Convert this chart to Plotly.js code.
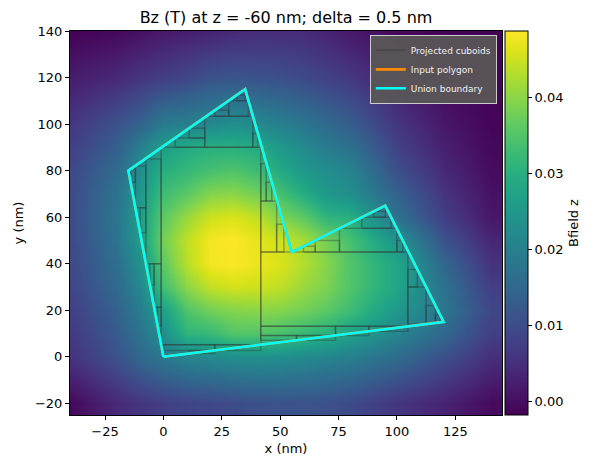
<!DOCTYPE html>
<html><head><meta charset="utf-8">
<script src="https://cdn.plot.ly/plotly-3.0.1.min.js"></script>
<style>html,body{margin:0;padding:0;background:#fff}#chart{width:598px;height:470px}</style>
</head><body><div id="chart"></div>
<script>
// Field grid (nm) and Bz values (T)
const xGrid = [-40, -20, -10, 0, 10, 20, 30, 40, 50, 60, 70, 80, 100, 120, 140];
const yGrid = [-20, 0, 10, 20, 30, 40, 50, 60, 70, 80, 90, 100, 120, 140];
const bz_y_m20 = [-0.0008, 0.0040, 0.0060, 0.0075, 0.0085, 0.0090, 0.0098, 0.0105, 0.0110, 0.0110, 0.0105, 0.0095, 0.0060, 0.0030, -0.0004];
const bz_y_0   = [0.0055, 0.0110, 0.0150, 0.0185, 0.0210, 0.0220, 0.0230, 0.0235, 0.0230, 0.0220, 0.0210, 0.0200, 0.0160, 0.0105, 0.0048];
const bz_y_10  = [0.0065, 0.0125, 0.0175, 0.0230, 0.0310, 0.0320, 0.0350, 0.0350, 0.0340, 0.0320, 0.0300, 0.0270, 0.0210, 0.0150, 0.0075];
const bz_y_20  = [0.0075, 0.0140, 0.0195, 0.0270, 0.0350, 0.0380, 0.0395, 0.0400, 0.0395, 0.0380, 0.0360, 0.0330, 0.0250, 0.0180, 0.0090];
const bz_y_30  = [0.0085, 0.0155, 0.0215, 0.0335, 0.0400, 0.0440, 0.0455, 0.0450, 0.0440, 0.0410, 0.0387, 0.0350, 0.0280, 0.0170, 0.0075];
const bz_y_40  = [0.0090, 0.0165, 0.0240, 0.0360, 0.0435, 0.0480, 0.0485, 0.0475, 0.0460, 0.0430, 0.0395, 0.0350, 0.0280, 0.0150, 0.0055];
const bz_y_50  = [0.0095, 0.0175, 0.0260, 0.0380, 0.0440, 0.0480, 0.0488, 0.0470, 0.0450, 0.0420, 0.0380, 0.0340, 0.0240, 0.0110, 0.0035];
const bz_y_60  = [0.0095, 0.0180, 0.0260, 0.0360, 0.0410, 0.0450, 0.0460, 0.0440, 0.0390, 0.0360, 0.0310, 0.0300, 0.0170, 0.0075, 0.0013];
const bz_y_70  = [0.0095, 0.0175, 0.0250, 0.0330, 0.0360, 0.0395, 0.0400, 0.0380, 0.0340, 0.0295, 0.0250, 0.0230, 0.0140, 0.0058, 0.0005];
const bz_y_80  = [0.0090, 0.0160, 0.0230, 0.0300, 0.0320, 0.0340, 0.0350, 0.0330, 0.0290, 0.0250, 0.0230, 0.0210, 0.0105, 0.0040, -0.0003];
const bz_y_90  = [0.0075, 0.0135, 0.0200, 0.0260, 0.0290, 0.0300, 0.0300, 0.0290, 0.0250, 0.0220, 0.0190, 0.0170, 0.0080, 0.0025, -0.0008];
const bz_y_100 = [0.0060, 0.0110, 0.0140, 0.0190, 0.0200, 0.0215, 0.0230, 0.0220, 0.0200, 0.0180, 0.0155, 0.0130, 0.0060, 0.0013, -0.0012];
const bz_y_120 = [0.0020, 0.0040, 0.0060, 0.0075, 0.0090, 0.0110, 0.0115, 0.0110, 0.0105, 0.0095, 0.0080, 0.0065, 0.0020, -0.0007, -0.0015];
const bz_y_140 = [-0.0017, -0.0008, 0.0003, 0.0015, 0.0023, 0.0030, 0.0040, 0.0045, 0.0045, 0.0042, 0.0030, 0.0015, -0.0008, -0.0016, -0.0017];
const bzMin = -0.0018, bzMax = 0.0488;

// Input polygon vertices (nm)
const polyX = [0, 120, 95, 55, 35, -15, 0];
const polyY = [0, 15, 65, 45, 115, 80, 0];

// Projected cuboids (x0, x1, y0, y1 in nm)
const cubX0 = [-1, 41.7, -7.5, -12, -10, -14, -4, -5.8, -2.5, 0, 22, 11, 41.7, 73.7, 88, 41.7, 57, 104.7, 112.5, 104.7, 116.5, 75.4, 85, 65, 100, 90, 60, 41.7, 48.5, 41.7, 44, 17.7, 5, 28, 11, 38.3, 31.5, 22];
const cubX1 = [41.7, 104.7, -1, -7.5, -7.5, -12, -1, -4, -1, 22, 41.7, 22, 73.7, 88, 104.7, 57, 73.7, 112.5, 116.5, 108.75, 118.5, 100, 97.5, 75.4, 102.5, 95, 65, 48.5, 51.6, 44, 46.4, 38.3, 17.7, 36.4, 17.7, 40.4, 35, 28];
const cubY0 = [5.2, 13.1, 40, 64, 53.3, 75, 21.3, 31, 13.3, 2.75, 2.75, 1.4, 9.2, 9.2, 11, 7.1, 7.1, 14.1, 14.6, 30, 15, 45, 55.2, 45, 45, 60, 45, 45, 45, 67, 67, 90, 90, 103.4, 94, 90, 110, 103.4];
const cubY1 = [90, 45, 85, 82, 64, 80.7, 40, 40, 21.3, 5.2, 5.2, 2.75, 13.1, 13.1, 13.1, 9.2, 9.2, 30, 22, 37.5, 18, 55.2, 60, 50, 50, 62.5, 47.5, 67, 57, 83, 75, 103.4, 94, 110, 98.2, 96, 112.5, 105.9];

const zRows = [bz_y_m20, bz_y_0, bz_y_10, bz_y_20, bz_y_30, bz_y_40, bz_y_50, bz_y_60, bz_y_70, bz_y_80, bz_y_90, bz_y_100, bz_y_120, bz_y_140];

const rx = [], ry = [];
for (let i = 0; i < cubX0.length; i++) {
  rx.push(cubX0[i], cubX1[i], cubX1[i], cubX0[i], cubX0[i], null);
  ry.push(cubY0[i], cubY0[i], cubY1[i], cubY1[i], cubY0[i], null);
}

const font = {family: 'DejaVu Sans', size: 13, color: '#000'};

const traces = [
  {type: 'heatmap', x: xGrid, y: yGrid, z: zRows, colorscale: 'Viridis', zsmooth: 'best',
   zmin: bzMin, zmax: bzMax, showlegend: false, hoverinfo: 'skip',
   colorbar: {x: 1.007, xanchor: 'left', xpad: 0, y: 0, yanchor: 'bottom', ypad: 0, len: 1, lenmode: 'fraction',
     thickness: 23, outlinewidth: 1, outlinecolor: '#000', ticks: 'outside', ticklen: 4, tickcolor: '#000',
     tickvals: [0, 0.01, 0.02, 0.03, 0.04], ticktext: ['0.00', '0.01', '0.02', '0.03', '0.04'],
     tickfont: {family: 'DejaVu Sans', size: 13, color: '#000'},
     title: {text: 'Bfield z', side: 'right', font: {family: 'DejaVu Sans', size: 13, color: '#000'}}}},
  {type: 'scatter', mode: 'lines', x: rx, y: ry, name: 'Projected cuboids',
   line: {color: 'rgba(45,45,45,0.35)', width: 1.5}, connectgaps: false, hoverinfo: 'skip'},
  {type: 'scatter', mode: 'lines', x: polyX, y: polyY, name: 'Input polygon',
   line: {color: '#ff8c00', width: 2.6}, hoverinfo: 'skip'},
  {type: 'scatter', mode: 'lines', x: polyX, y: polyY, name: 'Union boundary',
   line: {color: '#00ffff', width: 2.5}, hoverinfo: 'skip'}
];

const layout = {
  width: 598, height: 470,
  margin: {l: 70, r: 96, t: 31, b: 55},
  paper_bgcolor: '#fff', plot_bgcolor: '#fff',
  font: font,
  title: {text: 'Bz (T) at z = -60 nm; delta = 0.5 nm', x: 0.5, xref: 'paper', y: 0.964, yref: 'container', yanchor: 'middle',
    font: {family: 'DejaVu Sans', size: 16, color: '#000'}},
  xaxis: {range: [-40, 145], tickvals: [-25, 0, 25, 50, 75, 100, 125], ticks: 'outside', ticklen: 4, tickcolor: '#000',
    showline: true, mirror: true, linecolor: '#000', linewidth: 1, showgrid: false, zeroline: false,
    title: {text: 'x (nm)', standoff: 6, font: font}, tickfont: font},
  yaxis: {range: [-25, 140], tickvals: [-20, 0, 20, 40, 60, 80, 100, 120, 140], ticks: 'outside', ticklen: 4, tickcolor: '#000',
    showline: true, mirror: true, linecolor: '#000', linewidth: 1, showgrid: false, zeroline: false,
    title: {text: 'y (nm)', standoff: 8, font: font}, tickfont: font},
  legend: {x: 0.988, y: 0.99, xanchor: 'right', yanchor: 'top', bgcolor: 'rgba(90,88,88,0.92)',
    bordercolor: '#cccccc', borderwidth: 1, font: {family: 'DejaVu Sans', size: 9, color: '#f2f2f2'},
    itemwidth: 30, tracegroupgap: 0}
};

Plotly.newPlot('chart', traces, layout, {displayModeBar: false, staticPlot: true});
</script>
</body></html>
